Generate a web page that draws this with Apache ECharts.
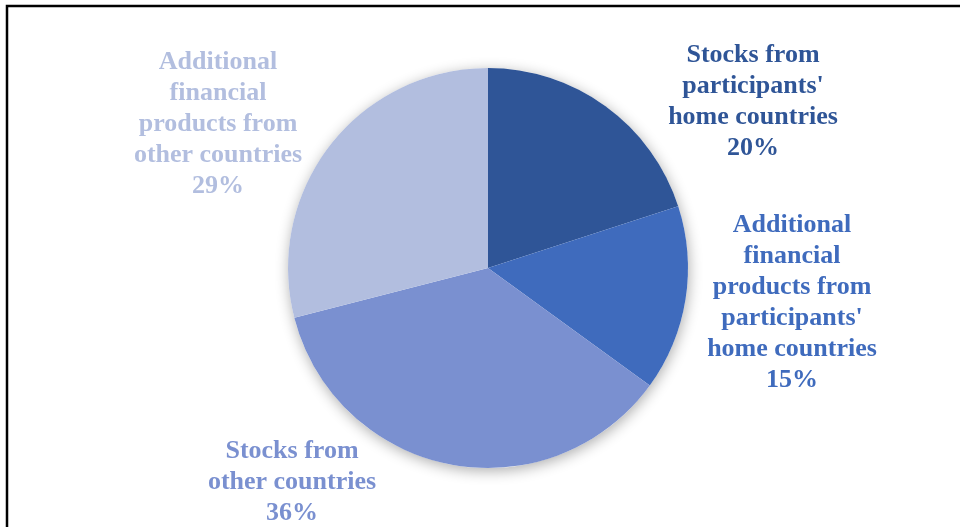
<!DOCTYPE html>
<html>
<head>
<meta charset="utf-8">
<style>
  html, body { margin: 0; padding: 0; background: #ffffff; }
  #chart { width: 960px; height: 527px; }
</style>
<script src="https://cdn.jsdelivr.net/npm/echarts@6/dist/echarts.min.js"></script>
</head>
<body>
<div id="chart"></div>
<script>
// Portfolio composition by product origin
const categories = [
  "Stocks from\nparticipants'\nhome countries",
  "Additional\nfinancial\nproducts from\nparticipants'\nhome countries",
  "Stocks from\nother countries",
  "Additional\nfinancial\nproducts from\nother countries"
];
const shares = [20, 15, 36, 29];
const sliceColors = ['#2F5597', '#3F6BBD', '#7A90D0', '#B2BEDF'];
// label anchor (centre of each text block) in px
const labelAnchors = [[753, 102], [792, 303], [292, 482], [218, 124]];

const chart = echarts.init(document.getElementById('chart'), null, { renderer: 'canvas' });

const pieCenter = [488, 268];
const pieRadius = 200;

chart.setOption({
  animation: false,
  backgroundColor: '#ffffff',
  graphic: [{
    type: 'polyline',
    shape: { points: [[7, 540], [7, 6], [970, 6]] },
    style: { stroke: '#000000', lineWidth: 2.5, fill: null },
    z: 10
  }],
  series: [
    {
      // soft drop shadow behind the whole disc
      type: 'pie',
      center: pieCenter,
      radius: pieRadius,
      silent: true,
      z: 1,
      data: [{ name: 'all', value: shares.reduce((a, b) => a + b, 0) }],
      itemStyle: {
        color: '#ffffff',
        shadowBlur: 14,
        shadowColor: 'rgba(0,0,0,0.32)',
        shadowOffsetX: 1,
        shadowOffsetY: 3
      },
      label: { show: false },
      labelLine: { show: false },
      emphasis: { disabled: true }
    },
    {
      type: 'pie',
      center: pieCenter,
      radius: pieRadius,
      startAngle: 90,
      clockwise: true,
      z: 2,
      data: categories.map((name, i) => ({
        name: name,
        value: shares[i],
        itemStyle: { color: sliceColors[i] },
        label: { color: sliceColors[i] }
      })),
      itemStyle: { borderWidth: 0 },
      label: {
        show: true,
        position: 'outside',
        formatter: p => p.name + '\n' + p.value + '%',
        fontFamily: '"Liberation Serif", "Times New Roman", serif',
        fontWeight: 'bold',
        fontSize: 26,
        lineHeight: 31,
        align: 'center'
      },
      labelLine: { show: false },
      labelLayout: params => ({
        x: labelAnchors[params.dataIndex][0],
        y: labelAnchors[params.dataIndex][1],
        align: 'center',
        verticalAlign: 'middle'
      }),
      emphasis: { disabled: true }
    }
  ]
});
</script>
</body>
</html>
